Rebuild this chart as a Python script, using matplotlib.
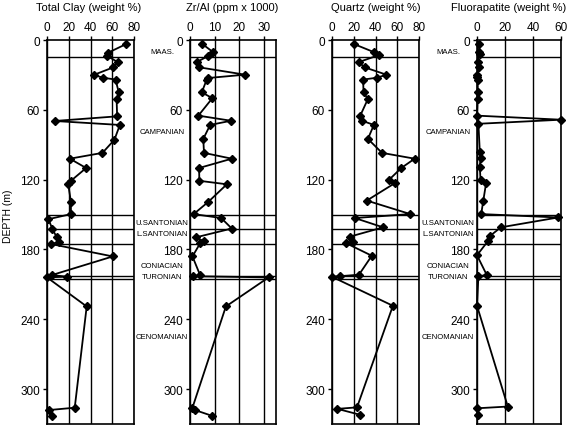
import matplotlib
matplotlib.use("Agg")
import matplotlib.pyplot as plt

plt.rcParams['font.family'] = ['Liberation Sans', 'DejaVu Sans']

# --- data (depth in m) ---
clay_depth = [3.4, 11, 13.5, 19, 23.5, 30, 32.4, 34, 45, 50.7, 65.6, 69.6, 73, 85.7, 97, 102,
              110, 121, 124, 139, 149.6, 154, 162.5, 169.6, 173.4, 175.4, 186, 202, 203.4,
              204, 229, 316, 318, 323.5]
clay_val = [73, 56, 55, 65, 61, 43, 51.5, 63, 66, 64, 64.5, 7, 67, 62, 51, 21,
            36, 22, 19.5, 22, 22, 1.3, 5, 9, 11, 4, 60.5, 4.5, 18,
            0, 36.5, 25.5, 2, 5]

zr_depth = [3.4, 10.6, 14, 19, 23.5, 29.8, 32.7, 34, 45, 50, 65, 69.4, 73, 85, 97, 102,
            110, 121, 124, 139, 149.6, 153, 162, 169.6, 173, 174.8, 186, 202, 203,
            204, 229, 316, 318, 323]
zr_val = [5, 9.5, 7.2, 2.7, 3.8, 22.4, 7.2, 6.8, 4.8, 9.1, 3.4, 16.7, 8.2, 5.4, 5.7, 17,
          3.7, 3.8, 15, 7.5, 1.5, 12.7, 17, 2.4, 5.5, 4.1, 1, 4.1, 1.4,
          32, 14.6, 1, 2, 9]

qtz_depth = [3.4, 10.6, 13, 19, 23.5, 29.8, 32.4, 34, 45, 50.7, 65, 69.4, 73, 85, 97, 102,
             110, 120, 123, 138, 149.6, 153, 161, 169, 173.4, 174.5, 185.4, 201.7, 203,
             203.5, 228.4, 315.7, 317, 322]
qtz_val = [20, 39, 43, 24.6, 30, 50, 41.5, 28.6, 29, 33, 26, 27.7, 38.5, 33, 46, 76,
           63.7, 52.6, 57.8, 32, 72, 21, 47, 16.4, 19.5, 12.7, 36.6, 24.8, 7,
           0, 56, 23, 5, 25.5]

fap_depth = [3.4, 10, 12, 19, 23.5, 30, 32, 34, 45, 50.7, 65, 68.5, 72, 96, 101, 109,
             120, 123, 138, 149.6, 152.5, 161, 168.7, 173, 185, 202, 203, 228.4,
             315, 316.5, 322]
fap_val = [1.5, 1.5, 2, 0.5, 1.5, 0.3, 0.3, 0.5, 0.5, 0.5, 0, 60, 1, 2, 2.5, 2,
           2.5, 6.5, 4.5, 3, 58, 17, 9, 7.7, 0, 7, 1, 0,
           22, 0, 1]

titles = ["Total Clay (weight %)", "Zr/Al (ppm x 1000)", "Quartz (weight %)", "Fluorapatite (weight %)"]
xlims = [(0, 80), (0, 35), (0, 80), (0, 60)]
xticks = [[0, 20, 40, 60, 80], [0, 10, 20, 30], [0, 20, 40, 60, 80], [0, 20, 40, 60]]
depth_ticks = [0, 60, 120, 180, 240, 300]

boundaries = [15, 150.5, 162.5, 175.5, 203, 205.5]
stage_names = ["MAAS.", "CAMPANIAN", "U.SANTONIAN", "L.SANTONIAN", "CONIACIAN", "TURONIAN", "CENOMANIAN"]
stage_depths = [10, 79, 157, 166, 194, 203, 255]

series = [(clay_val, clay_depth), (zr_val, zr_depth), (qtz_val, qtz_depth), (fap_val, fap_depth)]

W, H = 577, 427
fig = plt.figure(figsize=(W / 100, H / 100), dpi=100)

# panel boxes in pixels: left, right
boxes = [(47, 134), (190, 276), (332, 419), (477, 561)]
title_x = [89, 232, 376, 509]
top_px, bot_px = 41, 425

axes = []
for i, (l, r) in enumerate(boxes):
    ax = fig.add_axes([l / W, 1 - bot_px / H, (r - l) / W, (bot_px - top_px) / H])
    x, d = series[i]
    ax.plot(x, d, color='black', lw=1.3, marker='D', ms=3.6, zorder=3, clip_on=False)
    ax.set_xlim(*xlims[i])
    ax.set_ylim(330, 0)
    ax.set_xticks(xticks[i])
    ax.set_yticks(depth_ticks)
    ax.xaxis.tick_top()
    ax.tick_params(direction='out', length=3, width=1, labelsize=8.5, pad=2, colors='black')
    ax.grid(axis='x', color='black', lw=1)
    for b in boundaries:
        ax.axhline(b, color='black', lw=1)
    for s in ax.spines.values():
        s.set_linewidth(1.2)
    # title sits above the top tick labels
    fig.text(title_x[i] / W, 1 - 8 / H, titles[i], ha='center', va='center', fontsize=8)
    axes.append(ax)

fig.text(8 / W, 1 - 216 / H, "DEPTH (m)", rotation=90, ha='center', va='center', fontsize=7.5)

# stage names in the gaps before panels 2 and 4
for idx, cx in [(1, 162), (3, 448)]:
    ax = axes[idx]
    l, r = boxes[idx]
    xa = (cx - l) / (r - l)
    for name, dep in zip(stage_names, stage_depths):
        ax.text(xa, dep, name, transform=ax.get_yaxis_transform(), ha='center', va='center',
                fontsize=5.6)

fig.savefig("out.png", dpi=100)
